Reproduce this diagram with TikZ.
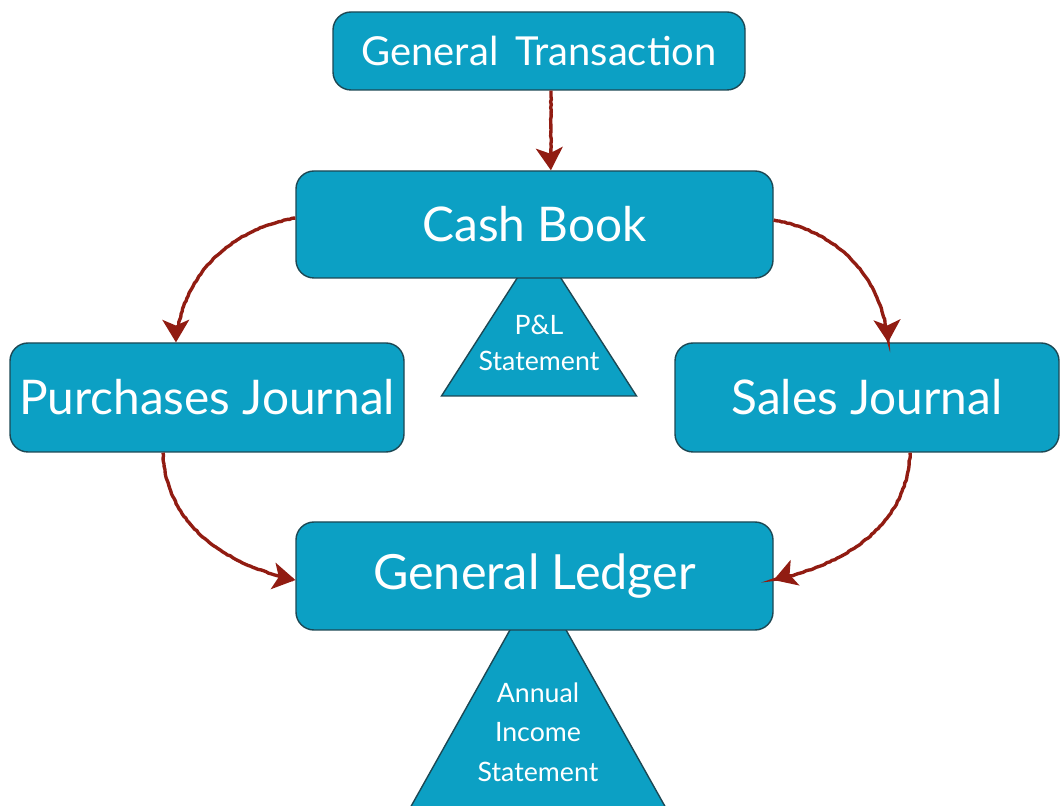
\documentclass[tikz,border=0pt]{standalone}
\usepackage{fontspec}
\setmainfont{Lato}
\usepackage{tikz}
\usetikzlibrary{arrows.meta,decorations.pathmorphing}
\definecolor{boxblue}{RGB}{12,160,196}
\definecolor{boxedge}{RGB}{28,72,84}
\definecolor{inkred}{RGB}{145,28,18}
\tikzset{>=Stealth}
\tikzset{
  bookbox/.style={
    draw=boxedge, line width=1pt, fill=boxblue, rounded corners=0.45cm,
    text=white, align=center, inner sep=0pt
  }
}
\tikzset{
  inkarrow/.style={
    draw=inkred, line width=2.4pt,
    -{Stealth[length=16pt,width=19pt,inset=4pt]},
    decorate, decoration={random steps,segment length=2pt,amplitude=0.3pt}
  }
}
\begin{document}
\begin{tikzpicture}
    \useasboundingbox (0,0) rectangle (26.5,20.15);
    \draw[boxedge,fill=boxblue,line width=1pt] (13.475,14.05) -- (15.9125,10.25) -- (11.0375,10.25) -- cycle;
    \draw[boxedge,fill=boxblue,line width=1pt] (13.45,5.65) -- (16.9,-0.5) -- (10.0,-0.5) -- cycle;
    \begin{scope}
        \node[bookbox,minimum width=10.3cm,minimum height=1.95cm,font=\fontsize{28.4}{32}\selectfont](GT) at (13.475,18.875) {General\, Transaction};
        \node[bookbox,minimum width=11.925cm,minimum height=2.675cm,font=\fontsize{34}{38}\selectfont](CB) at (13.3625,14.5375) {Cash Book};
        \node[bookbox,minimum width=9.85cm,minimum height=2.725cm,font=\fontsize{34}{38}\selectfont](PJ) at (5.175,10.2125) {Purchases Journal};
        \node[bookbox,minimum width=9.6cm,minimum height=2.725cm,font=\fontsize{34}{38}\selectfont](SJ) at (21.675,10.2125) {Sales Journal};
        \node[bookbox,minimum width=11.925cm,minimum height=2.7cm,font=\fontsize{34.5}{38}\selectfont](GL) at (13.3625,5.75) {General Ledger};
    \end{scope}
    \node[text=white,align=center,font=\fontsize{19}{25}\selectfont](PL) at (13.475,11.575) {P\&L\\Statement};
    \node[text=white,align=center,font=\fontsize{19}{28}\selectfont](AIS) at (13.45,1.85) {Annual\\Income\\Statement};
    \draw[inkarrow] ([xshift=0.3cm]GT.south) -- ([xshift=0.41cm]CB.north);
    \draw[inkarrow] ([yshift=0.16cm]CB.west) to[out=190,in=85] ([xshift=-0.775cm]PJ.north);
    \draw[inkarrow] ([yshift=0.11cm]CB.east) to[out=-10,in=95] ([xshift=0.525cm]SJ.north);
    \draw[inkarrow] ([xshift=-1.1cm]PJ.south) to[out=-88,in=168] ([yshift=-0.1cm]GL.west);
    \draw[inkarrow] ([xshift=1.075cm]SJ.south) to[out=-92,in=12] ([yshift=-0.1cm]GL.east);
\end{tikzpicture}
\end{document}
